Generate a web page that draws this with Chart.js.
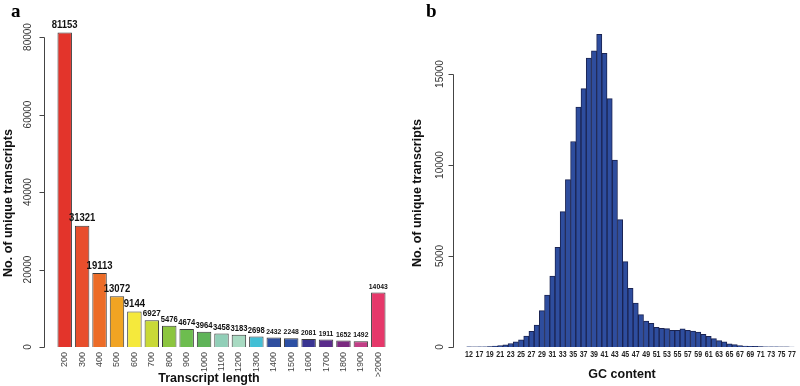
<!DOCTYPE html>
<html>
<head>
<meta charset="utf-8">
<script src="https://cdn.jsdelivr.net/npm/chart.js@4.4.1/dist/chart.umd.min.js"></script>
<style>
  html, body { margin: 0; padding: 0; background: #fff; }
  #wrap { position: relative; width: 800px; height: 386px; }
  .panel { position: absolute; top: 0; width: 400px; height: 386px; }
</style>
</head>
<body>
<div id="wrap">
  <div class="panel" style="left:0"><canvas id="lenChart" width="400" height="386"></canvas></div>
  <div class="panel" style="left:400px"><canvas id="gcChart" width="400" height="386"></canvas></div>
</div>
<script>
// panel a: transcript length distribution
var lengthLabels = ["200", "300", "400", "500", "600", "700", "800", "900", "1000", "1100",
  "1200", "1300", "1400", "1500", "1600", "1700", "1800", "1900", ">2000"];
var lengthCounts = [81153, 31321, 19113, 13072, 9144, 6927, 5476, 4674, 3964, 3458,
  3183, 2698, 2432, 2248, 2081, 1911, 1652, 1492, 14043];
var lengthColors = ["#e3342b", "#e84e2c", "#ec6c28", "#f1a423", "#f5e93c", "#c9d937", "#8cc53f",
  "#6dbd4f", "#5fb458", "#91cfb8", "#a8dac2", "#42bfd5", "#2f4e9f", "#2c4fa3", "#3a3592",
  "#5a2b8b", "#7b2a80", "#c23f86", "#e6386a"];
var lengthTicks = [0, 20000, 40000, 60000, 80000];

// panel b: GC content histogram
var gcLabels = ["12", "16", "17", "18", "19", "20", "21", "22", "23", "24", "25", "26", "27", "28",
  "29", "30", "31", "32", "33", "34", "35", "36", "37", "38", "39", "40", "41", "42", "43", "44",
  "45", "46", "47", "48", "49", "50", "51", "52", "53", "54", "55", "56", "57", "58", "59", "60",
  "61", "62", "63", "64", "65", "66", "67", "68", "69", "70", "71", "72", "73", "74", "75", "76", "77"];
var gcCounts = [5, 3, 8, 15, 25, 45, 75, 120, 190, 290, 400, 600, 860, 1200,
  2000, 2850, 3900, 5480, 7440, 9200, 11290, 13180, 14200, 15870, 16270, 17180, 16130, 13650, 10270, 7000,
  4690, 3220, 2420, 1780, 1430, 1300, 1080, 1030, 1010, 920, 920, 1000, 920, 880, 820, 700,
  590, 460, 350, 280, 180, 130, 80, 55, 40, 30, 20, 15, 10, 6, 4, 3, 2];
var gcTicks = [0, 5000, 10000, 15000];

// text squeezed horizontally (narrow bold labels of the original)
function narrowText(ctx, text, x, y, sx) {
  ctx.save();
  ctx.translate(x, y);
  ctx.scale(sx, 1);
  ctx.fillText(text, 0, 0);
  ctx.restore();
}

// draws R-style axes, titles and labels on top of the chart
function rStyle(cfg) {
  return {
    id: "rStyle",
    afterDraw: function (chart) {
      var ctx = chart.ctx, xs = chart.scales.x, ys = chart.scales.y;
      ctx.save();
      ctx.strokeStyle = "#444";
      ctx.lineWidth = 1;
      var ax = cfg.axisX + 0.5;
      ctx.beginPath();
      ctx.moveTo(ax, Math.round(ys.getPixelForValue(cfg.ticks[cfg.ticks.length - 1])) + 0.5);
      ctx.lineTo(ax, Math.round(ys.getPixelForValue(cfg.ticks[0])) + 0.5);
      cfg.ticks.forEach(function (t) {
        var py = Math.round(ys.getPixelForValue(t)) + 0.5;
        ctx.moveTo(ax, py);
        ctx.lineTo(ax - 5, py);
      });
      ctx.stroke();

      ctx.fillStyle = "#333";
      ctx.font = '10px "Liberation Sans"';
      ctx.textAlign = "center";
      ctx.textBaseline = "middle";
      cfg.ticks.forEach(function (t) {
        ctx.save();
        ctx.translate(cfg.tickLabelX, ys.getPixelForValue(t));
        ctx.rotate(-Math.PI / 2);
        ctx.fillText(String(t), 0, 0);
        ctx.restore();
      });

      cfg.xLabels(ctx, xs);

      // axis titles
      ctx.fillStyle = "#111";
      ctx.font = 'bold 12.5px "Liberation Sans"';
      ctx.textAlign = "center";
      ctx.textBaseline = "middle";
      ctx.fillText(cfg.xTitle, cfg.xTitlePos[0], cfg.xTitlePos[1]);
      ctx.save();
      ctx.translate(cfg.yTitlePos[0], cfg.yTitlePos[1]);
      ctx.rotate(-Math.PI / 2);
      ctx.fillText("No. of unique transcripts", 0, 0);
      ctx.restore();

      // panel letter
      ctx.font = 'bold 19px "Liberation Serif"';
      ctx.textAlign = "left";
      ctx.textBaseline = "alphabetic";
      ctx.fillStyle = "#000";
      ctx.fillText(cfg.letter, cfg.letterPos[0], cfg.letterPos[1]);

      if (cfg.extra) cfg.extra(chart, ctx);
      ctx.restore();
    }
  };
}

function valueFontSize(i) {
  if (i <= 4) return 10;
  if (i <= 5) return 9.5;
  if (i <= 11) return 9;
  return 8;
}

var lenChart = new Chart(document.getElementById("lenChart"), {
  type: "bar",
  data: {
    labels: lengthLabels,
    datasets: [{
      data: lengthCounts,
      backgroundColor: lengthColors,
      borderColor: "#3a3a3a",
      borderWidth: 1,
      barPercentage: 0.83,
      categoryPercentage: 1.0
    }]
  },
  options: {
    responsive: false,
    animation: false,
    layout: { padding: { left: 56, right: 13, top: 21.5, bottom: 39 } },
    scales: {
      x: { display: false },
      y: { display: false, min: 0, max: 84000 }
    },
    plugins: { legend: { display: false }, tooltip: { enabled: false } }
  },
  plugins: [rStyle({
    axisX: 44,
    tickLabelX: 28,
    ticks: lengthTicks,
    xTitle: "Transcript length",
    xTitlePos: [209, 379],
    yTitlePos: [9, 203],
    letter: "a",
    letterPos: [11, 17],
    xLabels: function (ctx, xs) {
      ctx.font = '9px "Liberation Sans"';
      ctx.fillStyle = "#444";
      ctx.textAlign = "right";
      ctx.textBaseline = "middle";
      lengthLabels.forEach(function (lab, i) {
        ctx.save();
        ctx.translate(xs.getPixelForValue(i), 352);
        ctx.rotate(-Math.PI / 2);
        ctx.fillText(lab, 0, 0);
        ctx.restore();
      });
    },
    extra: function (chart, ctx) {
      var bars = chart.getDatasetMeta(0).data;
      ctx.fillStyle = "#111";
      ctx.textAlign = "center";
      ctx.textBaseline = "bottom";
      bars.forEach(function (bar, i) {
        var fs = valueFontSize(i);
        ctx.font = "bold " + fs + 'px "Liberation Sans"';
        narrowText(ctx, String(lengthCounts[i]), bar.x, bar.y - 2, i <= 4 ? 0.95 : 0.85);
      });
    }
  })]
});

var gcChart = new Chart(document.getElementById("gcChart"), {
  type: "bar",
  data: {
    labels: gcLabels,
    datasets: [{
      data: gcCounts,
      backgroundColor: "#2e4d9e",
      borderColor: "#1b2452",
      borderWidth: 1,
      barPercentage: 1.0,
      categoryPercentage: 1.0
    }]
  },
  options: {
    responsive: false,
    animation: false,
    layout: { padding: { left: 66.4, right: 5.4, top: 19.4, bottom: 39 } },
    scales: {
      x: { display: false },
      y: { display: false, min: 0, max: 18000 }
    },
    plugins: { legend: { display: false }, tooltip: { enabled: false } }
  },
  plugins: [rStyle({
    axisX: 53,
    tickLabelX: 40,
    ticks: gcTicks,
    xTitle: "GC content",
    xTitlePos: [222, 375],
    yTitlePos: [18, 193],
    letter: "b",
    letterPos: [26, 17],
    xLabels: function (ctx, xs) {
      ctx.font = 'bold 9px "Liberation Sans"';
      ctx.fillStyle = "#222";
      ctx.textAlign = "center";
      ctx.textBaseline = "middle";
      gcLabels.forEach(function (lab, i) {
        if (i % 2 === 0) narrowText(ctx, lab, xs.getPixelForValue(i), 355, 0.78);
      });
    }
  })]
});
</script>
</body>
</html>
